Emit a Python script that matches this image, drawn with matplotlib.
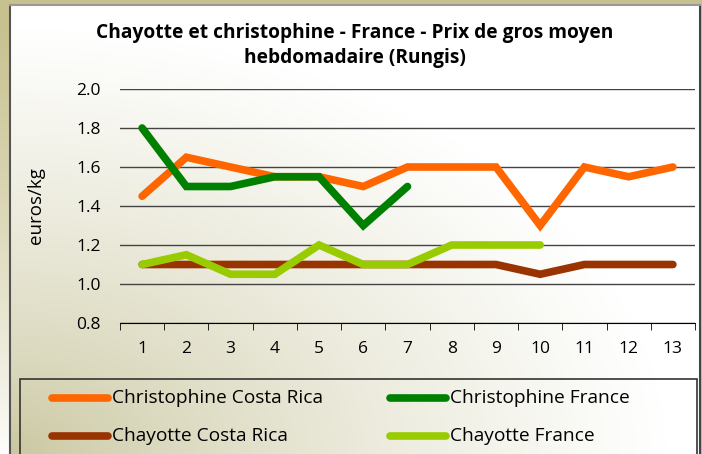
import numpy as np
import matplotlib
matplotlib.use("Agg")
import matplotlib.pyplot as plt
from matplotlib.lines import Line2D
from matplotlib.patches import Rectangle

weeks = list(range(1, 14))
christophine_cr = [1.45, 1.65, 1.6, 1.55, 1.55, 1.5, 1.6, 1.6, 1.6, 1.3, 1.6, 1.55, 1.6]
christophine_fr = [1.8, 1.5, 1.5, 1.55, 1.55, 1.3, 1.5]
chayotte_cr = [1.1, 1.1, 1.1, 1.1, 1.1, 1.1, 1.1, 1.1, 1.1, 1.05, 1.1, 1.1, 1.1]
chayotte_fr = [1.1, 1.15, 1.05, 1.05, 1.2, 1.1, 1.1, 1.2, 1.2, 1.2]
series_names = ["Christophine Costa Rica", "Christophine France",
                "Chayotte Costa Rica", "Chayotte France"]
colors = ["#FF6600", "#008000", "#993300", "#99CC00"]
yticks = [0.8, 1.0, 1.2, 1.4, 1.6, 1.8, 2.0]

FONT = ["Open Sans", "DejaVu Sans"]
plt.rcParams['font.family'] = FONT

W, H = 702, 454
fig = plt.figure(figsize=(W / 100, H / 100), dpi=100)

khaki = np.array([199, 193, 143]) / 255.0
khaki2 = np.array([201, 198, 158]) / 255.0
white = np.array([1.0, 1.0, 1.0])

# outer background
yy, xx = np.mgrid[0:H, 0:W]
d = np.sqrt((xx / W) ** 2 + ((H - yy) / H) ** 2)
t = np.clip(d / 0.95, 0, 1) ** 0.8
outer = khaki[None, None, :] * t[..., None] + white[None, None, :] * (1 - t[..., None])
bg = fig.add_axes([0, 0, 1, 1])
bg.imshow(outer, aspect='auto', extent=[0, 1, 0, 1], origin='upper')
bg.set_axis_off()

# inner panel
px0, py0, pw, ph = 10, 0, 690, 449
panel = fig.add_axes([px0 / W, py0 / H, pw / W, ph / H])
yy2, xx2 = np.mgrid[0:ph, 0:pw]
d2 = np.sqrt((xx2 / pw) ** 2 + ((ph - yy2) / ph) ** 2)
t2 = np.clip(d2 / 0.95, 0, 1) ** 0.75
inner = khaki2[None, None, :] * (1 - t2[..., None]) + white[None, None, :] * t2[..., None]
panel.imshow(inner, aspect='auto', extent=[0, 1, 0, 1], origin='upper')
panel.set_xticks([]); panel.set_yticks([])
panel.spines['bottom'].set_visible(False)
panel.spines['left'].set_color('#555555')
panel.spines['right'].set_color('#444444')
panel.spines['top'].set_color('#999999')
panel.spines['left'].set_linewidth(1.5)
panel.spines['right'].set_linewidth(1.5)
panel.spines['top'].set_linewidth(1.5)

# plot
ax = fig.add_axes([120 / W, 131 / H, 575 / W, 234 / H])
ax.patch.set_alpha(0)
ax.set_xlim(0.5, 13.5)
ax.set_ylim(0.8, 2.0)
ax.set_yticks(yticks)
ax.set_yticklabels([f"{v:.1f}" for v in yticks], fontsize=12.5)
ax.set_xticks(weeks)
ax.set_xticklabels([str(w) for w in weeks], fontsize=12.5)
ax.set_xticks(np.arange(0.5, 14, 1), minor=True)
ax.tick_params(axis='x', which='major', length=0, pad=13)
ax.tick_params(axis='x', which='minor', length=5, direction='out', color='black')
ax.tick_params(axis='y', length=0, pad=14)
ax.yaxis.grid(True, color='#444444', linewidth=1)
ax.set_axisbelow(True)
for s in ['left', 'right', 'top']:
    ax.spines[s].set_visible(False)
ax.spines['bottom'].set_color('black')
ax.set_ylabel("euros/kg", fontsize=13.5)
ax.yaxis.set_label_coords(-(120 - 45) / 575, 0.5)

data = [christophine_cr, christophine_fr, chayotte_cr, chayotte_fr]
order = [2, 3, 0, 1]
for i in order:
    vals = data[i]
    ax.plot(weeks[:len(vals)], vals, color=colors[i], linewidth=5.5,
            solid_capstyle='round', solid_joinstyle='miter', clip_on=False, zorder=3)

fig.text(355 / W, 1 - 33 / H, "Chayotte et christophine - France - Prix de gros moyen",
         ha='center', va='center', fontsize=13.8, fontweight='bold')
fig.text(355 / W, 1 - 58 / H, "hebdomadaire (Rungis)",
         ha='center', va='center', fontsize=13.8, fontweight='bold')

# legend box
fig.patches.append(Rectangle((20 / W, -0.05), 677 / W, (H - 379) / H + 0.05,
                             transform=fig.transFigure, fill=False,
                             edgecolor='#333333', linewidth=1.2))
leg_pos = [(52, 398), (390, 398), (52, 436), (390, 436)]
for i, (lx, ly) in enumerate(leg_pos):
    fig.add_artist(Line2D([lx / W, (lx + 56) / W], [1 - ly / H, 1 - ly / H],
                          transform=fig.transFigure, color=colors[i], linewidth=5.5,
                          solid_capstyle='round'))
    fig.text((lx + 60) / W, 1 - ly / H, series_names[i], ha='left', va='center',
             fontsize=13.8)

fig.savefig("out.png", dpi=100)
